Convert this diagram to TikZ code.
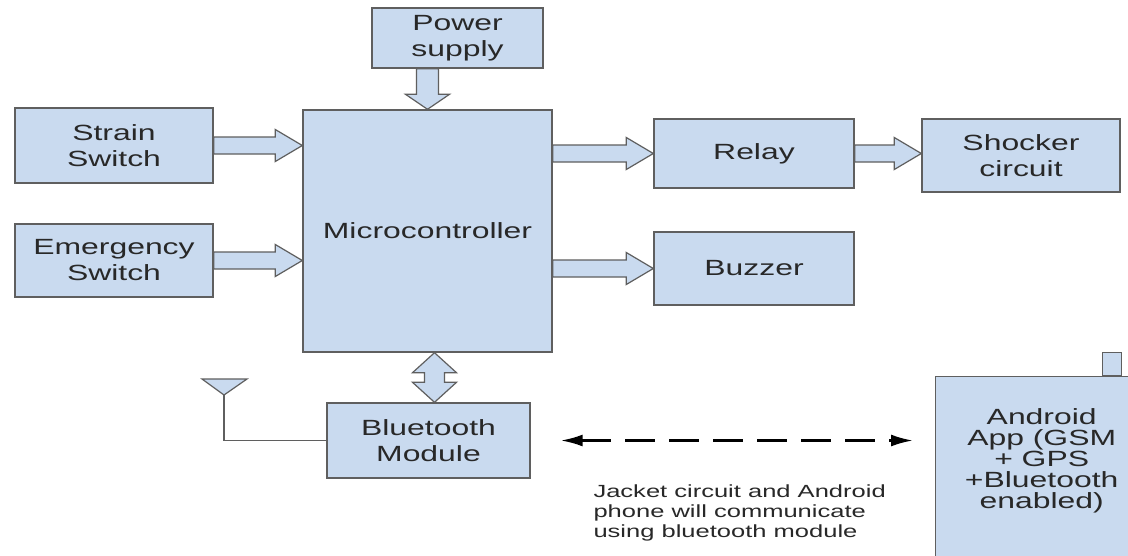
\documentclass[tikz,border=0pt]{standalone}
\usepackage{fontspec}
\setmainfont{Liberation Sans}[FakeStretch=1.45]
\usetikzlibrary{arrows.meta}
\usetikzlibrary{calc}
\definecolor{boxfill}{RGB}{201,218,239}
\definecolor{boxline}{RGB}{95,95,95}
\definecolor{inkgray}{RGB}{40,40,40}
\tikzstyle{block}=[rectangle,draw=boxline,fill=boxfill,line width=1.4pt,inner sep=0pt,align=center,text=inkgray,font=\fontsize{22}{26}\selectfont]
\tikzstyle{fat}=[draw=boxline,fill=boxfill,line width=1.2pt,line join=miter]
\tikzstyle{airlink}=[line width=2.5pt,dash pattern=on 30pt off 14pt,{Latex[length=22pt,width=12pt]}-{Latex[length=22pt,width=12pt]}]
% hollow block arrows
\newcommand{\harrow}[2]{%
    \path[fat] let \p1=#1, \p2=#2 in
        (\x1,\y1+8.5pt) -- (\x2-27pt,\y1+8.5pt) -- (\x2-27pt,\y1+16pt) -- (\x2,\y1)
        -- (\x2-27pt,\y1-16pt) -- (\x2-27pt,\y1-8.5pt) -- (\x1,\y1-8.5pt) -- cycle;}
\newcommand{\varrow}[2]{%
    \path[fat] let \p1=#1, \p2=#2 in
        (\x1-11pt,\y1) -- (\x1-11pt,\y2+15pt) -- (\x1-22pt,\y2+15pt) -- (\x1,\y2)
        -- (\x1+22pt,\y2+15pt) -- (\x1+11pt,\y2+15pt) -- (\x1+11pt,\y1) -- cycle;}
\newcommand{\vdarrow}[2]{%
    \path[fat] let \p1=#1, \p2=#2 in
        (\x1,\y1) -- (\x1+22pt,\y1-20pt) -- (\x1+10pt,\y1-20pt) -- (\x1+10pt,\y2+20pt)
        -- (\x1+22pt,\y2+20pt) -- (\x1,\y2) -- (\x1-22pt,\y2+20pt) -- (\x1-10pt,\y2+20pt)
        -- (\x1-10pt,\y1-20pt) -- (\x1-22pt,\y1-20pt) -- cycle;}

\begin{document}
\begin{tikzpicture}[x=1pt, y=-1pt]
    \useasboundingbox[fill=white] (0,0) rectangle (1128,555);
    % blocks
    \node[block, minimum width=171, minimum height=60] (power) at (457.5,38) {Power\\supply};
    \node[block, minimum width=198, minimum height=75] (strain) at (114,145.5) {Strain\\Switch};
    \node[block, minimum width=198, minimum height=73] (emerg) at (114,260.5) {Emergency\\Switch};
    \node[block, minimum width=249, minimum height=242] (micro) at (427.5,231) {Microcontroller};
    \node[block, minimum width=200, minimum height=69] (relay) at (754,153.5) {Relay};
    \node[block, minimum width=200, minimum height=73] (buzzer) at (754,268.5) {Buzzer};
    \node[block, minimum width=198, minimum height=73] (shocker) at (1021,155.5) {Shocker\\circuit};
    \node[block, minimum width=203, minimum height=75] (bt) at (428.5,440.5) {Bluetooth\\Module};
    % phone
    \node[block, minimum width=19, minimum height=23, anchor=south west] (phoneant) at (1102,376) {};
    \node[block, minimum width=212, minimum height=240, anchor=north west] (phone) at (935,376) {};
    \node[align=center, text=inkgray, font=\fontsize{22}{21}\selectfont] (android) at ($(phone.north)+(0,85)$)
        {Android\\App (GSM\\+ GPS\\+Bluetooth\\enabled)};
    % antenna
    \coordinate (anttip) at (224,395);
    \draw[fat] (anttip) -- ++(-22,-16) -- ++(45,0) -- cycle;
    \draw[boxline, line width=1.4pt] (bt.west) -| (anttip);
    % block arrows
    \varrow{(micro.north |- power.south)}{(micro.north)}
    \harrow{(strain.east)}{(strain.east -| micro.west)}
    \harrow{(emerg.east)}{(emerg.east -| micro.west)}
    \harrow{(relay.west -| micro.east)}{(relay.west)}
    \harrow{(buzzer.west -| micro.east)}{(buzzer.west)}
    \harrow{(relay.east)}{(relay.east -| shocker.west)}
    \vdarrow{([xshift=7pt]micro.south)}{([xshift=7pt]micro.south |- bt.north)}
    % wireless link
    \draw[airlink, shorten <=30pt, shorten >=22pt] (bt.east) -- (bt.east -| phone.west);
    \node[anchor=west, align=left, text=inkgray, font=\fontsize{17.6}{20}\selectfont] (note) at (590,513)
        {Jacket circuit and Android\\phone will communicate\\using bluetooth module};
\end{tikzpicture}
\end{document}
